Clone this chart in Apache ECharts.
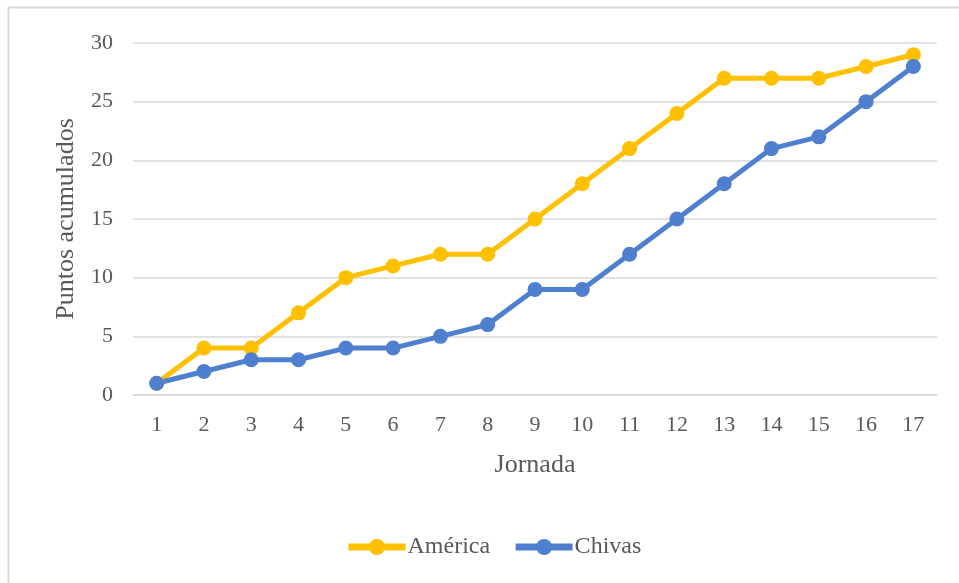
<!DOCTYPE html>
<html>
<head>
<meta charset="utf-8">
<script src="https://cdn.jsdelivr.net/npm/echarts@6/dist/echarts.min.js"></script>
<style>html,body{margin:0;padding:0;background:#fff}#c{width:959px;height:583px}</style>
</head>
<body>
<div id="c"></div>
<script>
const jornadas = ['1','2','3','4','5','6','7','8','9','10','11','12','13','14','15','16','17'];
const america = [1,4,4,7,10,11,12,12,15,18,21,24,27,27,27,28,29];
const chivas = [1,2,3,3,4,4,5,6,9,9,12,15,18,21,22,25,28];
const yTicks = [0,5,10,15,20,25,30];

const chart = echarts.init(document.getElementById('c'), null, {renderer:'canvas'});
const font = 'Liberation Serif, Times New Roman, serif';
const txt = '#595959';
chart.setOption({
  animation: false,
  backgroundColor: '#fff',
  textStyle: {fontFamily: font},
  graphic: [{
    type: 'rect', z: -1,
    shape: {x: 8.5, y: 7.5, width: 1200, height: 1200},
    style: {fill: 'none', stroke: '#d9d9d9', lineWidth: 2}
  }],
  grid: {left: 133, right: 22, top: 43, bottom: 188, containLabel: false},
  legend: {
    top: 530, left: 340,
    itemWidth: 57, itemHeight: 20, itemGap: 22,
    lineStyle: {width: 7},
    textStyle: {fontFamily: font, fontSize: 24, color: txt, padding: [0,0,0,-3]},
    data: ['América', 'Chivas']
  },
  xAxis: {
    type: 'category', data: jornadas, boundaryGap: true,
    name: 'Jornada', nameLocation: 'middle', nameGap: 57,
    nameTextStyle: {fontFamily: font, fontSize: 26, color: txt},
    axisLine: {show: true, lineStyle: {color: '#d9d9d9', width: 1.5}},
    axisTick: {show: false},
    axisLabel: {fontFamily: font, fontSize: 22, color: txt, margin: 19}
  },
  yAxis: {
    type: 'value', min: yTicks[0], max: yTicks[yTicks.length-1], interval: 5,
    name: 'Puntos acumulados', nameLocation: 'middle', nameGap: 54,
    nameTextStyle: {fontFamily: font, fontSize: 26, color: txt},
    axisLine: {show: false}, axisTick: {show: false},
    axisLabel: {fontFamily: font, fontSize: 22, color: txt, margin: 20},
    splitLine: {lineStyle: {color: '#d9d9d9', width: 1.5}}
  },
  series: [
    {name: 'América', type: 'line', data: america, symbol: 'circle', symbolSize: 15,
     lineStyle: {color: '#FFC000', width: 5}, itemStyle: {color: '#FFC000'}},
    {name: 'Chivas', type: 'line', data: chivas, symbol: 'circle', symbolSize: 15,
     lineStyle: {color: '#4E80CF', width: 5}, itemStyle: {color: '#4E80CF'}}
  ]
});
</script>
</body>
</html>
